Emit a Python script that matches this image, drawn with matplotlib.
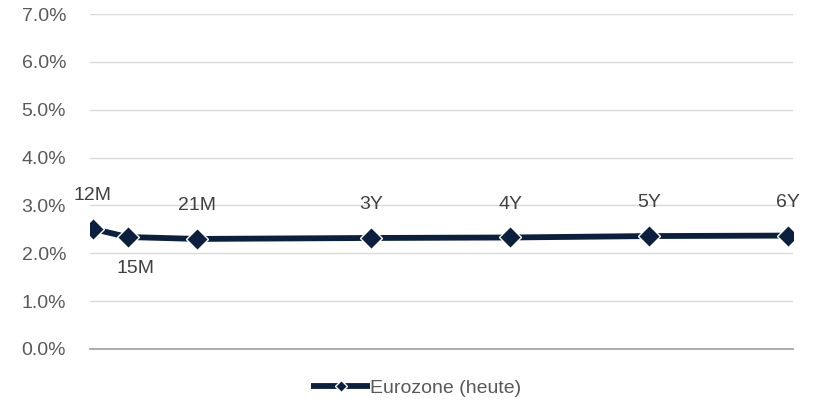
import matplotlib
matplotlib.use("Agg")
import matplotlib.pyplot as plt
from matplotlib.ticker import FuncFormatter

# maturities in years and their labels
maturity_years = [1.0, 1.25, 1.75, 3.0, 4.0, 5.0, 6.0]
maturity_labels = ["12M", "15M", "21M", "3Y", "4Y", "5Y", "6Y"]
eurozone_today = [2.51, 2.34, 2.30, 2.32, 2.33, 2.36, 2.37]
series_name = "Eurozone (heute)"

plt.rcParams['font.family'] = ['Liberation Sans', 'DejaVu Sans']

navy = '#0b1f3f'
text_gray = '#595959'

fig = plt.figure(figsize=(8.16, 4.13), dpi=100)
ax = fig.add_axes([0.110, 0.155, 0.862, 0.811])

ax.plot(maturity_years, eurozone_today, color=navy, linewidth=4.2,
        marker='D', markersize=11, markerfacecolor=navy,
        markeredgecolor='white', markeredgewidth=1.0, label=series_name,
        solid_capstyle='butt', zorder=3)

# point labels: 15M sits below the line, the rest above
for x, y, lab in zip(maturity_years, eurozone_today, maturity_labels):
    if lab == "15M":
        ax.annotate(lab, (x, y), xytext=(6, -23), textcoords='offset points',
                    ha='center', va='center', fontsize=14, color='#404040')
    else:
        ax.annotate(lab, (x, y), xytext=(0, 24), textcoords='offset points',
                    ha='center', va='center', fontsize=14, color='#404040')

ax.set_xlim(0.978, 6.036)
ax.set_ylim(0, 7)
ax.set_yticks(range(0, 8))
ax.yaxis.set_major_formatter(FuncFormatter(lambda v, p: f"{v:.1f}%"))
ax.tick_params(axis='y', length=0, pad=17, labelsize=14, labelcolor=text_gray)
ax.set_xticks([])
ax.yaxis.grid(True, color='#d9d9d9', linewidth=1.0)
ax.set_axisbelow(True)
for side in ['top', 'right', 'left']:
    ax.spines[side].set_visible(False)
ax.spines['bottom'].set_color('#a6a6a6')
ax.spines['bottom'].set_linewidth(1.3)

leg = fig.legend(loc='center', bbox_to_anchor=(0.51, 0.060), frameon=False,
                 fontsize=14, handlelength=3.0, handletextpad=0.0,
                 markerscale=0.55)
for t in leg.get_texts():
    t.set_color(text_gray)

fig.savefig("out.png", dpi=100)
